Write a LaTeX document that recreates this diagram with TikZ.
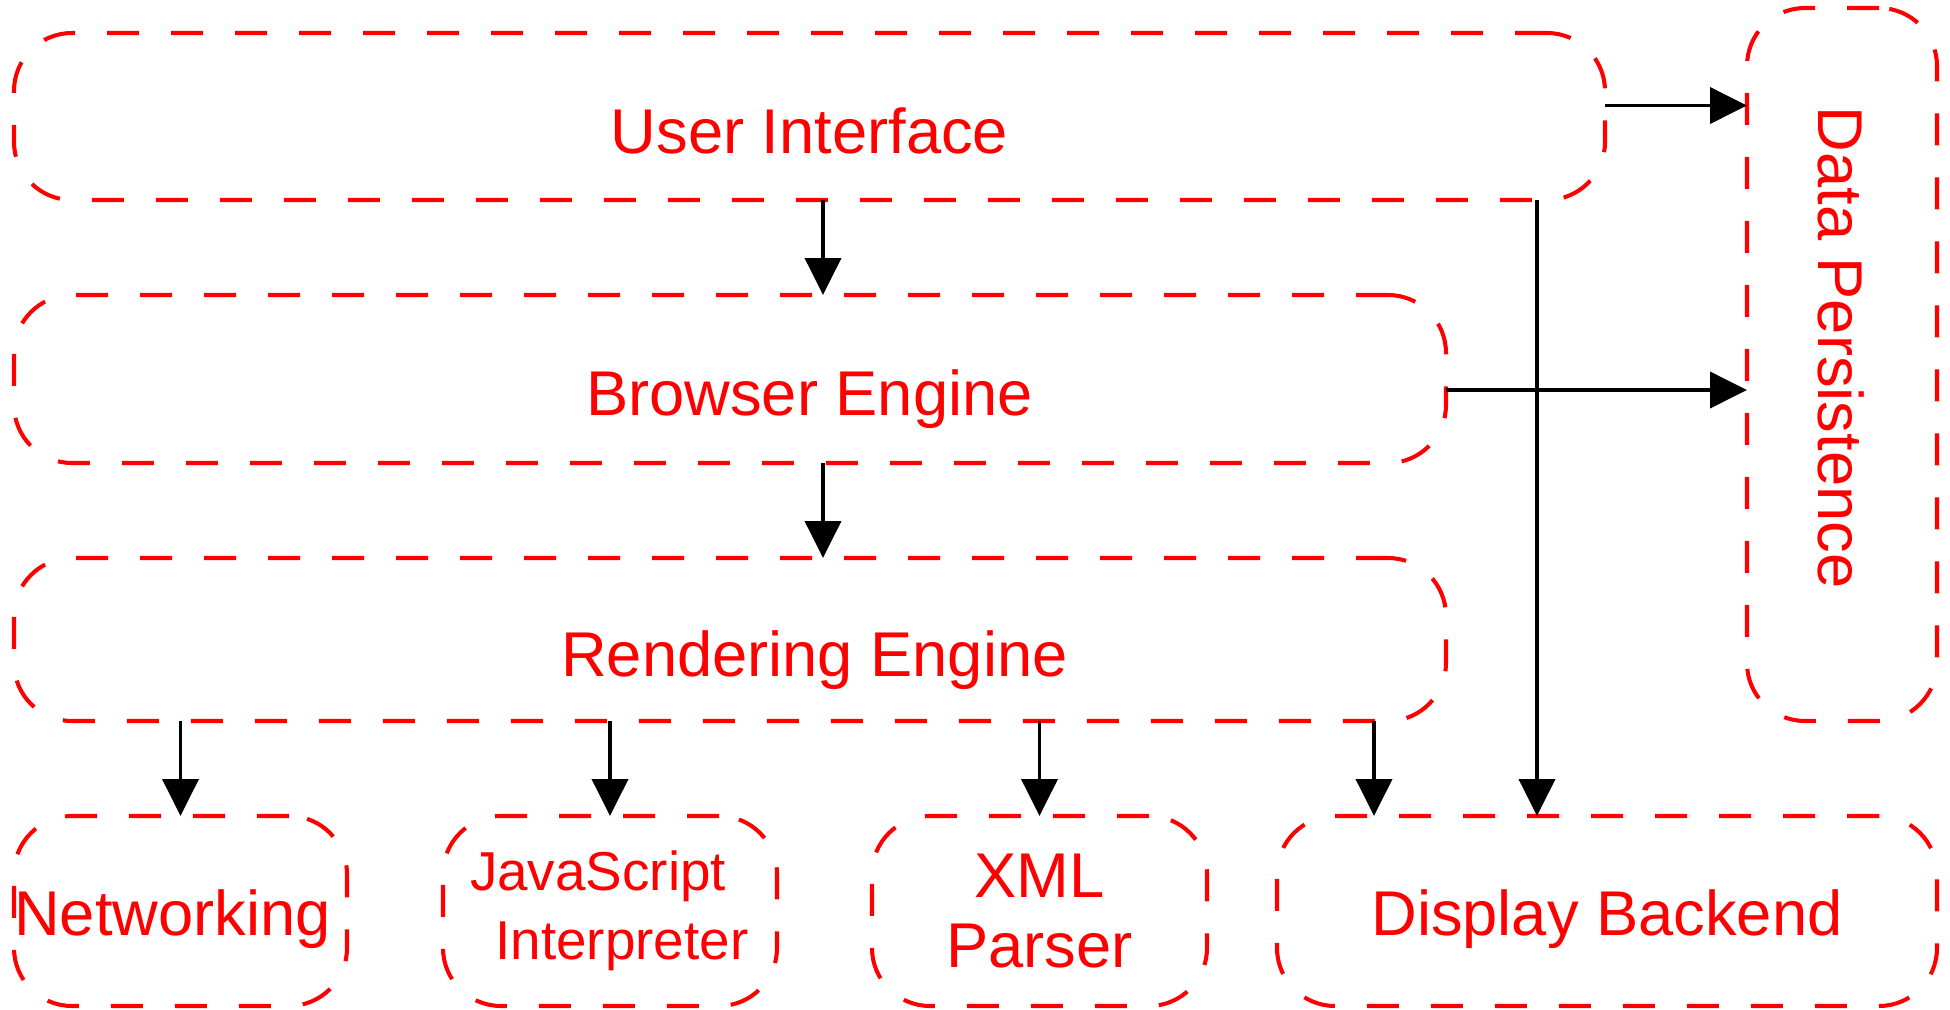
\documentclass[tikz,border=0pt]{standalone}
\usepackage{fontspec}
\setmainfont{Liberation Sans}
\usepackage{tikz}
\usetikzlibrary{positioning}
\usetikzlibrary{arrows.meta}

\begin{document}
\begin{tikzpicture}[
    node distance = 9.5mm and 0mm,% gap between the layers
       txt/.style = {text=red, inner sep=0pt, outer sep=0pt, font=\fontsize{18}{19.9}\selectfont},% labels
       box/.style = {txt, draw=red, line width=1.15pt, dash pattern=on 3.2mm off 3.2mm, rounded corners=5.8mm},% dashed boxes
      lift/.style = {text height=7.3mm, text depth=0pt},
      comp/.style = {box, minimum height=19mm},
       one/.style = {text height=4.8mm, text depth=0pt},
       arr/.style = {line width=1.1pt, -{Triangle[length=3.7mm, width=3.6mm]}}% connectors
    ]
    \useasboundingbox (0,0) rectangle (19.5,-10.1);
    % layers
    \node (ui) [box, lift, minimum width=159.1mm, minimum height=16.7mm, anchor=north west] at (1.4mm,-3.3mm) {User Interface};
    \node (be) [box, minimum width=143.2mm, minimum height=16.8mm, below right=of ui.south west] {};
    \node (re) [box, minimum width=143.2mm, minimum height=16.3mm, below right=of be.south west] {};
    \node (betxt) [txt, lift] at (ui.center |- be.center) {Browser Engine};
    \node (retxt) [txt, lift] at ([xshift=0.5mm]ui.center |- re.center) {Rendering Engine};
    % components
    \node (net) [comp, one, minimum width=33.3mm, below right=of re.south west] {Networking\hspace*{1.6mm}};
    \node (js) [comp, minimum width=33.4mm, right=9.6mm of net, align=center, font=\fontsize{15.6}{19.8}\selectfont]
        {JavaScript\hspace*{2.4mm}\\\hspace*{2.4mm}Interpreter};
    \node (xml) [comp, minimum width=33.5mm, right=9.5mm of js, align=center] {XML\\Parser};
    \node (db) [comp, one, minimum width=66mm, right=7mm of xml] {Display Backend};
    \node (dp) [box, minimum width=19mm, minimum height=71.3mm, anchor=south east] at (db.north east |- re.south) {};
    \node (dptxt) [txt, one, rotate=-90] at ([yshift=1.7mm]dp.center) {Data Persistence};

    \draw[arr] ([yshift=1.1mm]ui.east) -- ([yshift=1.1mm]ui.east -| dp.west);
    \draw[arr] ([yshift=-1.1mm]be.east) -- ([yshift=-1.1mm]be.east -| dp.west);
    \draw[arr] ([xshift=1.35mm]ui.south) -- ([xshift=1.35mm]ui.south |- be.north);
    \draw[arr] ([xshift=1.35mm]ui.south |- be.south) -- ([xshift=1.35mm]ui.south |- re.north);
    \draw[arr] ([xshift=-6.8mm]ui.south east) -- ([xshift=-6.8mm]ui.south east |- db.north);
    \foreach \n in {net, js, xml}
        \draw[arr] (re.south -| \n.north) -- (\n.north);
    \draw[arr] ([xshift=9.7mm]db.north west |- re.south) -- ([xshift=9.7mm]db.north west);
\end{tikzpicture}
\end{document}
